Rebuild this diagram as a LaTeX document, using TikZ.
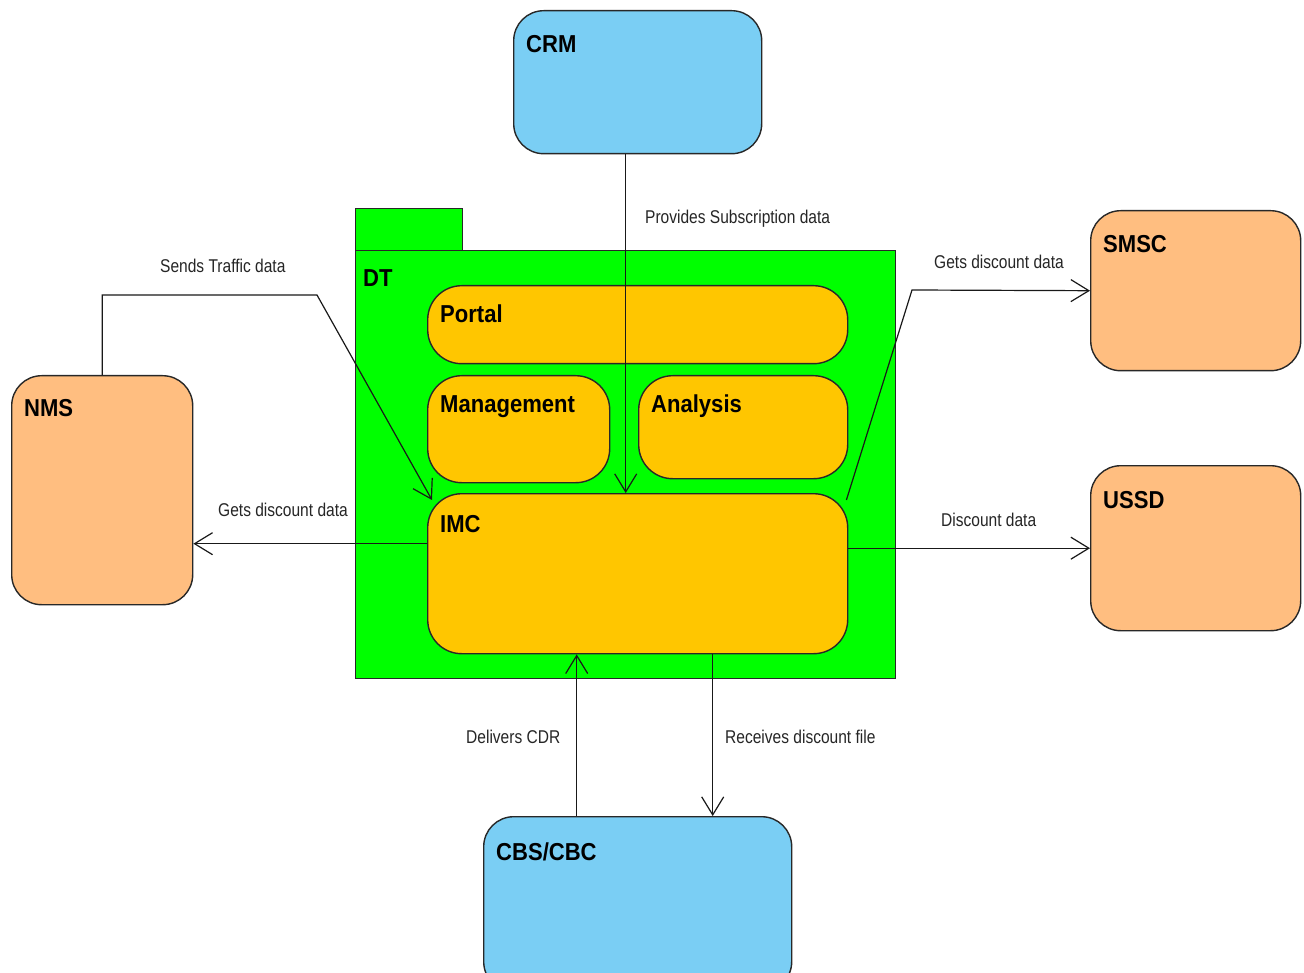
\documentclass[tikz,border=0pt]{standalone}
\usepackage{fontspec}
\newfontfamily\labelfont[FakeStretch=0.84]{Liberation Sans}
\newfontfamily\titlefont[FakeStretch=0.9]{Liberation Sans}
\usetikzlibrary{arrows.meta}
\definecolor{sysblue}{RGB}{122,206,244}
\definecolor{sysorange}{RGB}{255,190,128}
\definecolor{modyellow}{RGB}{255,198,0}
\definecolor{pkggreen}{RGB}{0,255,0}
\definecolor{edge}{RGB}{40,40,40}

\begin{document}
\begin{tikzpicture}
    [   x = 1pt, y = -1pt
    ,   > = {Straight Barb[length=18pt,width=22pt]}
    ,   box/.style =
        {   draw = edge
        ,   line width = 1.4pt
        ,   rounded corners = 30
        ,   anchor = north west
        ,   inner sep = 0pt
        }
    ,   sys/.style = {box, fill=sysblue}
    ,   ext/.style = {box, fill=sysorange}
    ,   module/.style = {box, fill=modyellow, rounded corners=34}
    ,   pkg/.style =
        {   draw = edge
        ,   line width = 1.4pt
        ,   fill = pkggreen
        ,   anchor = north west
        ,   inner sep = 0pt
        }
    ,   title/.style =
        {   anchor = base west
        ,   inner sep = 0pt
        ,   xshift = 13
        ,   yshift = -40
        ,   font = \titlefont\bfseries\fontsize{24.5}{26}\selectfont
        }
    ,   lbl/.style =
        {   anchor = base west
        ,   inner sep = 0pt
        ,   text = black!85
        ,   font = \labelfont\fontsize{18.5}{20}\selectfont
        }
    ,   flow/.style = {->, line width=1.2pt, black!90}
    ]
    \useasboundingbox[fill=white] (0,0) rectangle (1304,973);

    % package DT
    \node[pkg, minimum width=107, minimum height=42] (dttab) at (355,208) {};
    \node[pkg, minimum width=540, minimum height=428,
          label={[title, xshift=-5, yshift=3]north west:DT}] (dt) at (355,250) {};

    % modules
    \node[module, minimum width=420, minimum height=78,
          label={[title, yshift=2]north west:Portal}] (portal) at (427,285) {};
    \node[module, minimum width=182, minimum height=107,
          label={[title, yshift=2]north west:Management}] (mgmt) at (427,375) {};
    \node[module, minimum width=209, minimum height=103,
          label={[title, yshift=2]north west:Analysis}] (analysis) at (638,375) {};
    \node[module, minimum width=420, minimum height=160,
          label={[title, yshift=1]north west:IMC}] (imc) at (427,493) {};

    % systems
    \node[sys, minimum width=248, minimum height=143,
          label={[title, yshift=-3]north west:CRM}] (crm) at (513,10) {};
    \node[sys, minimum width=308, minimum height=175,
          label={[title, yshift=-4]north west:CBS/CBC}] (cbs) at (483,816) {};
    \node[ext, minimum width=181, minimum height=229,
          label={[title, yshift=-2]north west:NMS}] (nms) at (11,375) {};
    \node[ext, minimum width=210, minimum height=160,
          label={[title, yshift=-3]north west:SMSC}] (smsc) at (1090,210) {};
    \node[ext, minimum width=210, minimum height=165,
          label={[title, yshift=-3]north west:USSD}] (ussd) at (1090,465) {};

    % flows
    \coordinate (crmout) at ([xshift=-12]crm.south);
    \draw[flow] (crmout) -- (crmout |- imc.north);

    \coordinate (nmsbend) at (317,295);
    \coordinate (imcin) at ([shift={(5,7)}]imc.north west);
    \draw[flow] (nms.north) |- (nmsbend) -- (imcin);

    \coordinate (imcleft) at ([yshift=30]imc.west);
    \draw[flow] (imcleft) -- (imcleft -| nms.east);

    \coordinate (imcout) at ([shift={(-2,7)}]imc.north east);
    \coordinate (smscbend) at (912,290);
    \draw[flow] (imcout) -- (smscbend) -- (smsc.west);

    \draw[flow] (imc.east |- ussd.west) -- (ussd.west);

    \coordinate (cbsup) at ([xshift=-61]cbs.north);
    \draw[flow] (cbsup) -- (cbsup |- imc.south);
    \coordinate (cbsdown) at ([xshift=75]cbs.north);
    \draw[flow] (cbsdown |- imc.south) -- (cbsdown);

    % flow labels
    \node[lbl] (lsub)  at (645,224) {Provides Subscription data};
    \node[lbl] (ltraf) at (160,273) {Sends Traffic data};
    \node[lbl] (lnms)  at (218,516) {Gets discount data};
    \node[lbl] (lsmsc) at (934,269) {Gets discount data};
    \node[lbl] (lussd) at (941,526) {Discount data};
    \node[lbl] (lcdr)  at (466,743) {Delivers CDR};
    \node[lbl] (lfile) at (725,743) {Receives discount file};

\end{tikzpicture}
\end{document}
